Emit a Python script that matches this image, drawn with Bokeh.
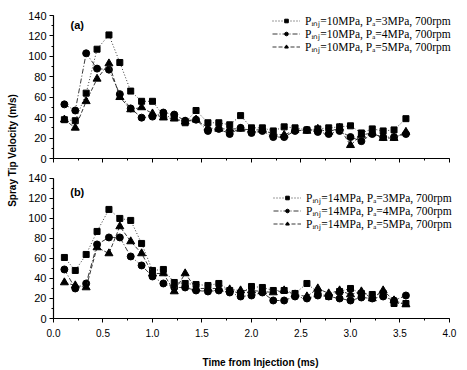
from bokeh.plotting import figure
from bokeh.layouts import row, column
from bokeh.models import (Range1d, SingleIntervalTicker, Legend, LegendItem, Label,
                          PrintfTickFormatter, CustomJSTickFormatter)
from bokeh.embed import file_html
from bokeh.resources import INLINE

# time after injection start (ms)
time_ms = [0.11, 0.22, 0.33, 0.44, 0.56, 0.67, 0.78, 0.89, 1.00, 1.11, 1.22, 1.33,
           1.44, 1.56, 1.67, 1.78, 1.89, 2.00, 2.11, 2.22, 2.33, 2.44, 2.56, 2.67,
           2.78, 2.89, 3.00, 3.11, 3.22, 3.33, 3.44, 3.56]

# panel (a): Pinj = 10 MPa
a_pa3 = [38, 37, 64, 107, 121, 94, 66, 56, 56, 42, 40, 35, 47, 35, 35, 33,
         42, 30, 30, 27, 31, 30, 28, 29, 30, 31, 32, 25, 29, 27, 28, 39]
a_pa4 = [53, 47, 103, 88, 87, 63, 49, 40, 41, 45, 43, 37, 38, 27, 29, 24,
         30, 25, 27, 21, 21, 27, 28, 26, 24, 27, 21, 17, 24, 21, 21, 24]
a_pa5 = [38, 30, 56, 78, 93, 60, 48, 50, 44, 40, 39, 36, 38, 30, 29, 29,
         29, 28, 28, 24, 23, 28, 27, 29, 26, 30, 13, 23, 25, 20, 20, 26]

# panel (b): Pinj = 14 MPa
b_pa3 = [61, 48, 64, 87, 109, 100, 98, 75, 48, 49, 36, 35, 34, 33, 35, 28,
         25, 32, 31, 28, 28, 25, 35, 26, 22, 27, 30, 25, 24, 25, 15, 15]
b_pa4 = [49, 30, 35, 74, 81, 81, 62, 53, 42, 35, 31, 31, 28, 27, 28, 26,
         22, 23, 26, 18, 18, 22, 20, 23, 22, 20, 18, 21, 20, 22, 18, 23]
b_pa5 = [36, 33, 31, 71, 65, 92, 77, 65, 45, 45, 27, 45, 30, 30, 30, 29,
         28, 28, 27, 26, 28, 24, 22, 30, 25, 28, 24, 27, 20, 28, 18, 14]

labels_a = ["P\u1d62\u2099\u2c7c=10MPa, P\u2090=3MPa, 700rpm",
            "P\u1d62\u2099\u2c7c=10MPa, P\u2090=4MPa, 700rpm",
            "P\u1d62\u2099\u2c7c=10MPa, P\u2090=5MPa, 700rpm"]
labels_b = ["P\u1d62\u2099\u2c7c=14MPa, P\u2090=3MPa, 700rpm",
            "P\u1d62\u2099\u2c7c=14MPa, P\u2090=4MPa, 700rpm",
            "P\u1d62\u2099\u2c7c=14MPa, P\u2090=5MPa, 700rpm"]

SANS = "Liberation Sans"
SERIF = "Liberation Serif"

styles = [("square", 6, "1 2"), ("circle", 7, "5 2 1 2"), ("triangle", 8, "4 2")]


def make_panel(height, btop, bbottom, y_end, series, labels, tag, tag_y, legend_x,
               legend_ys, bottom_axis):
    p = figure(width=443, height=height, x_range=Range1d(0, 4.182),
               y_range=Range1d(0, y_end),
               output_backend="svg", toolbar_location=None,
               min_border_left=29, min_border_right=0,
               min_border_top=btop, min_border_bottom=bbottom)
    p.outline_line_color = None
    p.grid.visible = False
    p.background_fill_color = "white"
    p.border_fill_color = "white"
    p.xaxis.ticker = SingleIntervalTicker(interval=0.5, num_minor_ticks=2)
    p.yaxis.ticker = SingleIntervalTicker(interval=20, num_minor_ticks=2)
    p.xaxis.bounds = (0, 4)
    p.yaxis.bounds = (0, 140)
    for ax in (p.xaxis, p.yaxis):
        ax.axis_line_color = "black"
        ax.axis_line_width = 1.2
        ax.major_tick_line_color = "black"
        ax.minor_tick_line_color = "black"
        ax.major_tick_out = 4
        ax.major_tick_in = 0
        ax.minor_tick_out = 2
        ax.minor_tick_in = 0
        ax.major_label_text_font = SANS
        ax.major_label_text_color = "black"
    p.yaxis.major_label_text_font_size = "11px"
    p.yaxis.major_label_standoff = 3
    if bottom_axis:
        p.xaxis.formatter = PrintfTickFormatter(format="%.1f")
        p.xaxis.major_label_text_font_size = "10px"
        p.xaxis.major_label_standoff = 6
        p.xaxis.axis_label = "Time from Injection (ms)"
        p.xaxis.axis_label_text_font = SANS
        p.xaxis.axis_label_text_font_size = "10px"
        p.xaxis.axis_label_text_font_style = "bold"
        p.xaxis.axis_label_text_color = "black"
        p.xaxis.axis_label_standoff = 17
    else:
        p.xaxis.formatter = CustomJSTickFormatter(code="return ''")
        p.xaxis.major_label_text_font_size = "10px"
        p.xaxis.major_label_standoff = 0

    for vals, lab, (marker, size, dash), ly in zip(series, labels, styles, legend_ys):
        lr = p.line(time_ms, vals, line_color="#222222", line_width=0.9, line_dash=dash)
        sr = p.scatter(time_ms, vals, marker=marker, size=size, fill_color="black",
                       line_color="black")
        leg = Legend(items=[LegendItem(label=lab, renderers=[lr, sr])],
                     location=(legend_x, ly))
        leg.background_fill_alpha = 0
        leg.border_line_alpha = 0
        leg.label_text_font = SERIF
        leg.label_text_font_size = "11.5px"
        leg.label_text_color = "black"
        leg.glyph_width = 28
        leg.glyph_height = 9
        leg.label_height = 9
        leg.spacing = 0
        leg.padding = 0
        leg.margin = 0
        leg.label_standoff = 5
        p.add_layout(leg, "center")

    p.add_layout(Label(x=0.24, y=tag_y, text=tag, text_font=SANS, text_font_size="11px",
                       text_font_style="bold", text_align="center",
                       text_baseline="middle", text_color="black"))
    return p


top = make_panel(170, 5, 12, 149.8, [a_pa3, a_pa4, a_pa5], labels_a, "(a)", 131,
                 219, [130, 117, 104], False)
bottom = make_panel(200, 0, 50, 147.9, [b_pa3, b_pa4, b_pa5], labels_b, "(b)", 126,
                    220, [113, 100, 87], True)

lab = figure(width=24, height=370, x_range=Range1d(0, 1), y_range=Range1d(0, 1),
             output_backend="svg", toolbar_location=None,
             min_border_left=0, min_border_right=0, min_border_top=0, min_border_bottom=0)
lab.axis.visible = False
lab.grid.visible = False
lab.outline_line_color = None
lab.add_layout(Label(x=12, y=220, x_units="screen", y_units="screen",
                     text="Spray Tip Velocity (m/s)", angle=1.5707963,
                     text_font=SANS, text_font_size="10px", text_font_style="bold",
                     text_align="center", text_baseline="middle", text_color="black"))

layout = row(lab, column(top, bottom, spacing=0), spacing=0)

open("out.html", "w").write(file_html(layout, INLINE))
